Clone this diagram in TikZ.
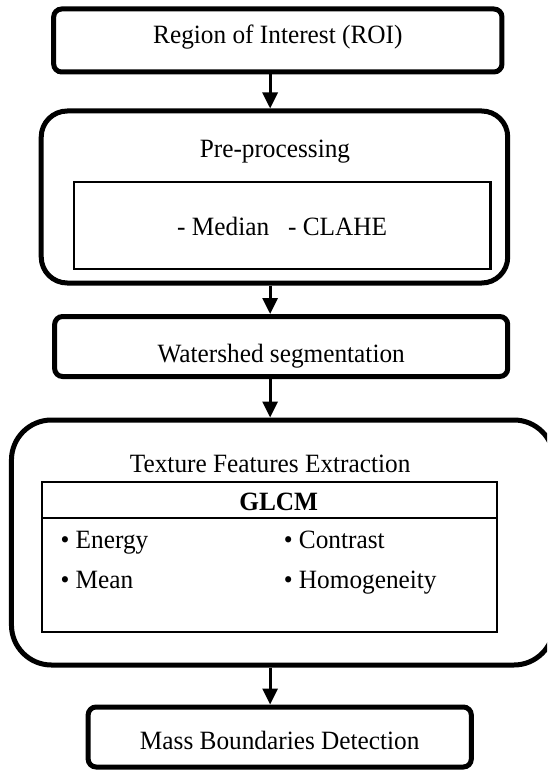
\documentclass[tikz,border=0pt]{standalone}
\usepackage{fontspec}
\setmainfont[FakeStretch=0.958]{Liberation Serif}
\usetikzlibrary{arrows.meta}
\begin{document}
\begin{tikzpicture}[x=0.958pt,y=-1pt,
  txt/.style={font=\fontsize{26.4}{30}\selectfont, inner sep=0pt},
  outerbox/.style={draw, line width=5pt, rounded corners=#1, inner sep=0pt, font=\fontsize{26.4}{30}\selectfont},
  innerbox/.style={draw, line width=2.2pt, inner sep=0pt, outer sep=0pt, font=\fontsize{26.4}{30}\selectfont},
  arr/.style={line width=3pt, -{Triangle[width=15pt,length=16pt]}},
  sepline/.style={line width=2.2pt},
]
\useasboundingbox (0,0) rectangle (571,770);
\clip (0,0) rectangle (571,770);
\coordinate (ax) at (282,0);

% Box 1
\node[outerbox=8pt, minimum width=448.3pt, minimum height=63pt, text height=12.8pt, text depth=7.2pt]
  (b1) at (290,40.5) {Region of Interest (ROI)};

% Box 2: pre-processing container
\node[outerbox=26pt, minimum width=466.5pt, minimum height=172pt] (b2) at (286.5,197) {};
\node[txt, anchor=base] (pre) at (287,158) {Pre-processing};
\node[innerbox, minimum width=416.7pt, minimum height=87pt, text height=19.5pt, text depth=0.5pt]
  (pin) at (294.5,225.5) {- Median\hspace{12.5pt} - CLAHE};

% Box 3
\node[outerbox=8pt, minimum width=453.1pt, minimum height=60pt, text height=31.5pt, text depth=0.5pt]
  (b3) at (293.5,346.5) {Watershed segmentation};

% Box 4: texture container (runs past the right edge)
\node[outerbox=40pt, minimum width=542.5pt, minimum height=245pt] (b4) at (295.1,542.5) {};
\node[txt, anchor=base] (tfe) at (282,472) {Texture Features Extraction};
\node[innerbox, minimum width=455.4pt, minimum height=150.3pt] (glcm) at (281.3,556.85) {};
\path (glcm.north west) ++(0,36) coordinate (dl);
\draw[sepline] (dl) -- (dl -| glcm.east);
\node[txt, anchor=base, font=\fontsize{26.4}{30}\selectfont\bfseries] (gl) at (291,510) {GLCM};
\node[txt, anchor=base west] (en) at (63,548) {\textbullet{} Energy};
\node[txt, anchor=base west] (mn) at (63,588) {\textbullet{} Mean};
\node[txt, anchor=base west] (co) at (296,548) {\textbullet{} Contrast};
\node[txt, anchor=base west] (ho) at (296,588) {\textbullet{} Homogeneity};

% Box 5
\node[outerbox=8pt, minimum width=383.2pt, minimum height=60pt, text height=25.7pt, text depth=0.3pt]
  (b5) at (292,737) {Mass Boundaries Detection};

% Arrows
\draw[arr] (b1.south -| ax) -- (b2.north -| ax);
\draw[arr] (b2.south -| ax) -- (b3.north -| ax);
\draw[arr] (b3.south -| ax) -- (b4.north -| ax);
\draw[arr] (b4.south -| ax) -- (b5.north -| ax);
\end{tikzpicture}
\end{document}
